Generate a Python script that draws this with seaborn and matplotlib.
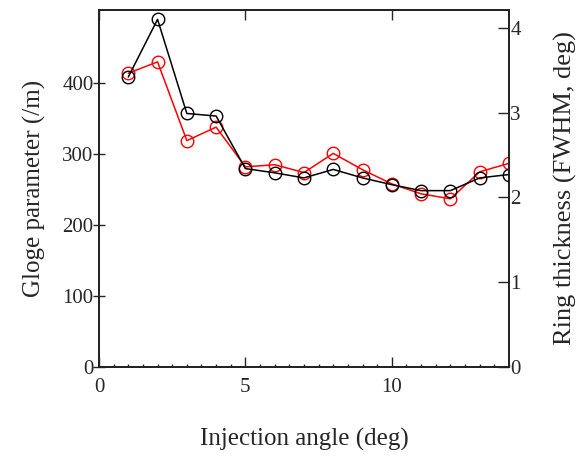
import numpy as np
import pandas as pd
import matplotlib
matplotlib.use('Agg')
import matplotlib.pyplot as plt
import seaborn as sns

# datos
angle = [1, 2, 3, 4, 5, 6, 7, 8, 9, 10, 11, 12, 13, 14]
gloge = [414, 430, 319, 338, 282, 285, 274, 301, 278, 258, 244, 237, 275, 287]
ring = [3.42, 4.10, 2.99, 2.96, 2.34, 2.29, 2.23, 2.33, 2.23, 2.15, 2.08, 2.08, 2.23, 2.27]

df = pd.DataFrame({'angle': angle, 'gloge': gloge, 'ring': ring})

sns.set_style('ticks')
plt.rcParams['font.family'] = ['Liberation Serif', 'DejaVu Serif']

fig = plt.figure(figsize=(5.84, 4.57), dpi=100)
ax = fig.add_axes([0.1695, 0.197, 0.702, 0.781])
ax2 = ax.twinx()

sns.lineplot(data=df, x='angle', y='gloge', ax=ax, color='red', lw=1.1,
             marker='o', markersize=9, markerfacecolor='none',
             markeredgecolor='red', markeredgewidth=1.0)
sns.lineplot(data=df, x='angle', y='ring', ax=ax2, color='black', lw=1.1,
             marker='o', markersize=9, markerfacecolor='none',
             markeredgecolor='black', markeredgewidth=1.0)

ax.set_xlim(0, 14)
ax.set_ylim(0, 503)
ax2.set_ylim(0, 4.21)
ax.set_xticks([0, 5, 10])
ax.set_xticks(np.arange(0, 14.01, 0.5), minor=True)
ax.set_yticks([0, 100, 200, 300, 400])
ax2.set_yticks([0, 1, 2, 3, 4])

ax.tick_params(axis='x', which='major', direction='in', top=True, length=7, width=1, labelsize=15, pad=8)
ax.tick_params(axis='x', which='minor', direction='in', top=False, length=2, width=1)
ax.tick_params(axis='y', direction='inout', length=8, width=1, labelsize=15, pad=0)
ax2.tick_params(axis='y', direction='in', length=8, width=1, labelsize=15, pad=1)

for a in (ax, ax2):
    for s in a.spines.values():
        s.set_linewidth(1.3)
        s.set_color('#222222')

ax.set_xlabel('Injection angle (deg)', fontsize=18, labelpad=22)
ax.set_ylabel('Gloge parameter (/m)', fontsize=18, labelpad=12)
ax2.set_ylabel('Ring thickness (FWHM, deg)', fontsize=19, labelpad=24)

fig.savefig('out.png', dpi=100)
